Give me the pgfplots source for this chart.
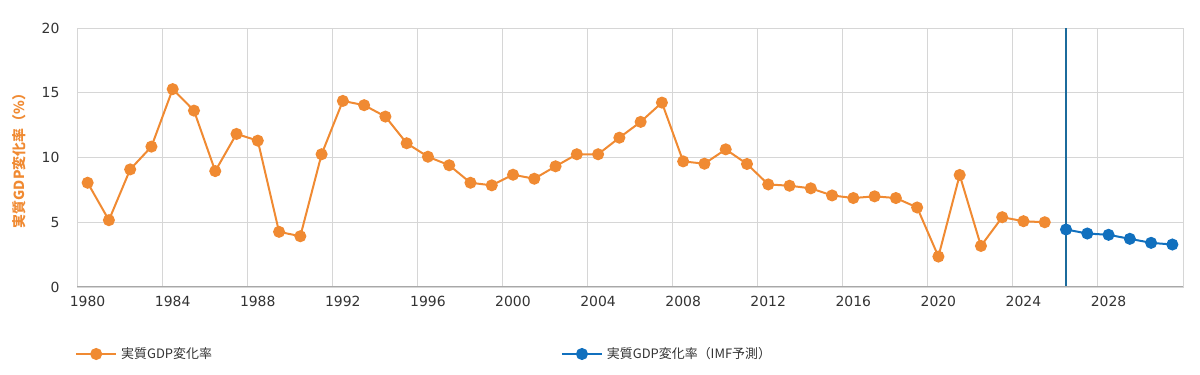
\documentclass[border=0pt]{standalone}
\usepackage{fontspec}
\usepackage{pgfplots}
\usepackage{pgfplotstable}
\pgfplotsset{compat=1.18}
\setmainfont{DejaVu Sans}
\newfontfamily\cjk{Noto Sans CJK JP}
\definecolor{gdporange}{HTML}{F08A32}
\definecolor{gdpblue}{HTML}{1170BE}
\definecolor{vlinec}{HTML}{1B6B9C}
\definecolor{gridgray}{HTML}{D6D6D6}
\definecolor{axisgray}{HTML}{A8A8A8}
\definecolor{textgray}{HTML}{333333}

\pgfplotstableread{
year g
1980 8.05
1981 5.16
1982 9.08
1983 10.84
1984 15.28
1985 13.62
1986 8.95
1987 11.82
1988 11.30
1989 4.26
1990 3.92
1991 10.25
1992 14.37
1993 14.04
1994 13.16
1995 11.10
1996 10.06
1997 9.40
1998 8.05
1999 7.85
2000 8.67
2001 8.36
2002 9.32
2003 10.25
2004 10.25
2005 11.53
2006 12.75
2007 14.24
2008 9.70
2009 9.52
2010 10.63
2011 9.50
2012 7.92
2013 7.82
2014 7.62
2015 7.07
2016 6.87
2017 7.00
2018 6.87
2019 6.14
2020 2.35
2021 8.65
2022 3.17
2023 5.39
2024 5.08
2025 5.00
}\orangedata

\pgfplotstableread{
year g
2026 4.44
2027 4.13
2028 4.03
2029 3.72
2030 3.41
2031 3.28
}\bluedata

\begin{document}
\begin{tikzpicture}
\path[use as bounding box] (0bp,0bp) rectangle (1200bp,375bp);
\begin{axis}[
  at={(77bp,88bp)}, anchor=south west,
  scale only axis, width=1106bp, height=259bp,
  xmin=1980, xmax=2032, ymin=0, ymax=20,
  xtick={1980,1984,...,2028}, ytick={0,5,...,20},
  xticklabel style={/pgf/number format/1000 sep={}, xshift=10.6bp, yshift=-6bp},
  yticklabel style={xshift=-14bp},
  /pgf/number format/assume math mode=true,
  tick label style={font=\fontsize{14}{16}\selectfont, text=textgray},
  major tick length=0pt,
  grid=major, grid style={draw=gridgray, line width=0.9bp},
  axis lines=box, axis line style={draw=gridgray, line width=0.9bp},
  every axis y label/.style={at={(rel axis cs:0,0.5)}, xshift=-58bp, rotate=90, anchor=center},
  ylabel={\cjk\bfseries 実質GDP変化率（\%）},
  ylabel style={text=gdporange, font=\fontsize{14}{16}\selectfont},
  legend columns=2,
  legend style={at={(rel axis cs:0,0)}, anchor=west, yshift=-67bp, xshift=-2bp,
    draw=none, fill=none, inner sep=0pt,
    font=\fontsize{13}{15}\selectfont\cjk, text=textgray,
    /tikz/every even column/.append style={column sep=347bp},
    /tikz/every odd column/.append style={column sep=2bp}},
  legend image code/.code={\draw[mark repeat=2,mark phase=2,#1] plot coordinates {(0bp,0bp) (20bp,0bp) (40bp,0bp)};},
]
\addplot[gdporange, line width=2bp, mark=*, mark size=5bp, mark options={fill=gdporange, draw=gdporange}]
  table[x expr=\thisrow{year}+0.5, y=g] {\orangedata};
\addlegendentry{実質GDP変化率}
\addplot[gdpblue, line width=2bp, mark=*, mark size=5bp, mark options={fill=gdpblue, draw=gdpblue}]
  table[x expr=\thisrow{year}+0.5, y=g] {\bluedata};
\addlegendentry{実質GDP変化率（IMF予測）}
\addplot[vlinec, line width=1.2bp, forget plot] coordinates {(2026.5,0) (2026.5,20)};
\draw[axisgray, line width=1.6bp] (rel axis cs:0,0) -- (rel axis cs:1,0);
\end{axis}
\end{tikzpicture}
\end{document}
